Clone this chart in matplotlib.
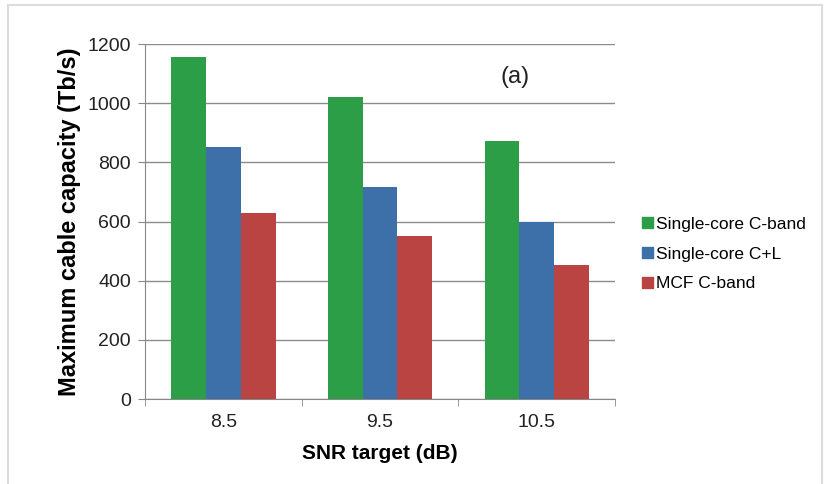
import numpy as np
import matplotlib
matplotlib.use('Agg')
import matplotlib.pyplot as plt
from matplotlib.patches import Patch, Rectangle

plt.rcParams['font.family'] = ['Liberation Sans', 'DejaVu Sans']

# data
snr_targets = ['8.5', '9.5', '10.5']
series_names = ['Single-core C-band', 'Single-core C+L', 'MCF C-band']
single_c = [1155, 1020, 873]
single_cl = [853, 716, 600]
mcf_c = [628, 551, 453]
colours = ['#2c9e48', '#3d70a9', '#b94441']

fig = plt.figure(figsize=(8.3, 4.84), dpi=100)
ax = fig.add_axes([0.1747, 0.1756, 0.5663, 0.7334])

x = np.arange(len(snr_targets))
w = 0.222
for i, (vals, c) in enumerate(zip([single_c, single_cl, mcf_c], colours)):
    ax.bar(x + (i - 1) * w, vals, width=w, color=c, zorder=3)

ax.set_xlim(-0.5, 2.5)
ax.set_ylim(0, 1200)
ax.set_yticks(range(0, 1201, 200))
ax.set_xticks(x)
ax.set_xticklabels(snr_targets)
ax.set_xticks([-0.5, 0.5, 1.5, 2.5], minor=True)
ax.tick_params(axis='x', which='major', length=0, pad=11, labelsize=14, labelcolor='#222222')
ax.tick_params(axis='x', which='minor', length=5, color='#888888')
ax.tick_params(axis='y', length=5, color='#888888', pad=5, labelsize=14, labelcolor='#222222')

ax.grid(axis='y', color='#8c8c8c', linewidth=1, zorder=0)
for s in ['top', 'right']:
    ax.spines[s].set_visible(False)
for s in ['left', 'bottom']:
    ax.spines[s].set_color('#888888')

ax.set_ylabel('Maximum cable capacity (Tb/s)', fontsize=17, fontweight='bold', labelpad=5)
ax.set_xlabel('SNR target (dB)', fontsize=15, fontweight='bold', labelpad=9)

ax.text(1.86, 1090, '(a)', fontsize=17, ha='center', va='center', color='#222222')

handles = [Patch(color=c) for c in colours]
fig.legend(handles, series_names, loc='center left', bbox_to_anchor=(0.755, 0.475),
           frameon=False, fontsize=12.5, handlelength=0.6, handleheight=0.6,
           handletextpad=0.2, labelspacing=0.85)

# light frame round the picture
fig.patches.append(Rectangle((8 / 830, -0.05), 814 / 830, 1.05 - 5 / 484,
                             transform=fig.transFigure, fill=False,
                             edgecolor='#dddddd', linewidth=1.5))

fig.savefig('out.png', dpi=100)
